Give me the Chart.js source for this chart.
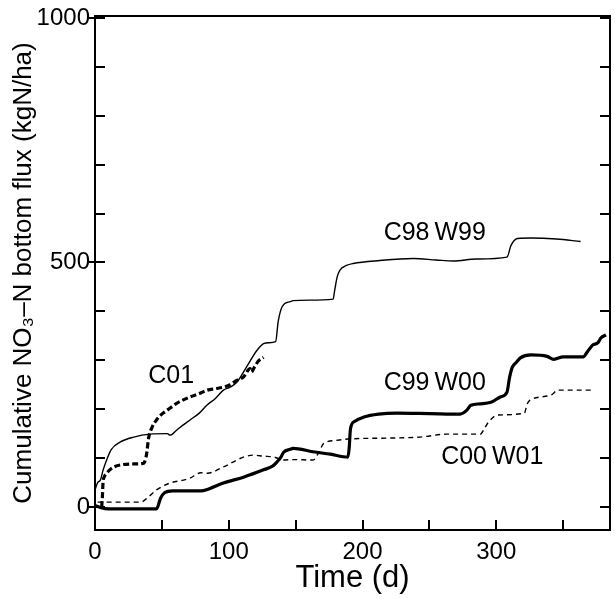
<!DOCTYPE html>
<html><head><meta charset="utf-8">
<script src="https://cdn.jsdelivr.net/npm/chart.js@4.4.0/dist/chart.umd.min.js"></script>
<style>html,body{margin:0;padding:0;background:#fff}</style>
</head><body>
<canvas id="c" width="615" height="599"></canvas>
<script>
// ---- data (time in days, cumulative NO3-N bottom flux in kgN/ha) ----
const c98w99Days = [0,2,4,6,9,12,19,29,41,54,56,61,66,71,78,84,90,96,101,106,113,121,126,130,135,137,140,146,148,160,178,179,181,183,188,193,213,238,255,268,285,308,311,316,326,345,363];
const c98w99Flux = [35,50,55,75,98,117,133,143,149,150,147,157,168,178,192,209,222,239,245,255,285,320,334,336,338,380,410,420,422,423,425,440,470,484,494,498,504,508,505,503,507,511,535,549,550,548,543];

const c01Days = [5,5.5,6,7,9,11,15,19,28,36,38,39,40,42.5,46,50,54,58,61,66,71,78,84,90,96,101,106,111,116,117,119,122,126];
const c01Flux = [0,20,50,62,70,76,83,86,88,89,100,117,140,162,178,190,198,206,212,219,225,232,239,242,245,250,259,266,283,276,285,298,306];

const c99w00Days = [0,3,10,46,49,52,58,79,85,96,111,126,133,136,139,141,146,148,163,176,189,190,191,194,201,212,226,250,273,278,281,288,296,303,308,310,312,315,318,326,338,343,350,365,368,372,376,378,382];
const c99w00Flux = [3,0,-4,-4,18,29,33,33,37,49,61,76,84,92,102,112,118,120,113,108,102,120,160,175,184,190,192,191,190,198,208,211,214,225,235,266,286,296,305,311,308,302,307,307,317,331,336,345,352];

const c00w01Days = [2,10,34,41,46,56,66,71,79,84,96,111,118,126,134,141,148,163,167,171,180,189,220,243,263,288,291,294,301,321,323,325,341,346,372];
const c00w01Flux = [10,10,10,23,35,49,55,59,70,69,82,102,106,104,102,96,97,96,110,130,136,139,141,143,149,149,160,173,188,192,210,218,229,239,239];

const xTickLabels = [0,100,200,300];
const yTickLabels = [0,500,1000];
const xMinorTicks = [0,50,100,150,200,250,300,350];
const yMinorTicks = [0,100,200,300,400,500,600,700,800,900,1000];

const seriesNames = ['C98\u2009W99','C01','C99\u2009W00','C00\u2009W01'];

const pts = (d, v) => d.map((x, i) => ({x: x, y: v[i]}));

// label anchors (data units) for the in-plot series names
const labelAnchors = [
  {text: seriesNames[0], x: 254, y: 560},
  {text: seriesNames[1], x: 57, y: 268},
  {text: seriesNames[2], x: 254, y: 254},
  {text: seriesNames[3], x: 297, y: 102}
];

const FONT = '"Liberation Sans", Arial, Helvetica, sans-serif';

const framePlugin = {
  id: 'frame',
  afterDatasetsDraw(chart) {
    const ctx = chart.ctx;
    const a = chart.chartArea;
    const xs = chart.scales.x, ys = chart.scales.y;
    ctx.save();
    ctx.strokeStyle = '#000';
    ctx.lineWidth = 2;
    ctx.lineCap = 'butt';
    ctx.beginPath();
    ctx.rect(a.left, a.top, a.right - a.left, a.bottom - a.top);
    ctx.stroke();
    const L = 10;
    ctx.beginPath();
    xMinorTicks.forEach(v => {
      const px = Math.round(xs.getPixelForValue(v));
      ctx.moveTo(px, a.bottom); ctx.lineTo(px, a.bottom - L);
    });
    yMinorTicks.forEach(v => {
      const py = Math.round(ys.getPixelForValue(v));
      ctx.moveTo(a.left, py); ctx.lineTo(a.left + L, py);
      ctx.moveTo(a.right, py); ctx.lineTo(a.right - L, py);
    });
    yTickLabels.forEach(v => {
      const py = Math.round(ys.getPixelForValue(v));
      ctx.moveTo(a.left, py); ctx.lineTo(a.left - 6, py);
    });
    ctx.stroke();
    // series names
    ctx.fillStyle = '#000';
    ctx.font = '25px ' + FONT;
    ctx.textAlign = 'center';
    ctx.textBaseline = 'middle';
    labelAnchors.forEach(l => {
      ctx.fillText(l.text, xs.getPixelForValue(l.x), ys.getPixelForValue(l.y));
    });
    ctx.restore();
  }
};

new Chart(document.getElementById('c'), {
  type: 'line',
  data: {
    datasets: [
      {label: seriesNames[0], data: pts(c98w99Days, c98w99Flux), borderColor: '#000', borderWidth: 1.4, pointRadius: 0, cubicInterpolationMode: 'monotone', fill: false},
      {label: seriesNames[1], data: pts(c01Days, c01Flux), borderColor: '#000', borderWidth: 3.2, borderDash: [6, 3], pointRadius: 0, cubicInterpolationMode: 'monotone', fill: false},
      {label: seriesNames[2], data: pts(c99w00Days, c99w00Flux), borderColor: '#000', borderWidth: 3.2, pointRadius: 0, cubicInterpolationMode: 'monotone', fill: false},
      {label: seriesNames[3], data: pts(c00w01Days, c00w01Flux), borderColor: '#000', borderWidth: 1.4, borderDash: [5, 4], pointRadius: 0, cubicInterpolationMode: 'monotone', fill: false}
    ]
  },
  options: {
    responsive: false,
    animation: false,
    devicePixelRatio: 1,
    layout: {padding: {top: 16, right: 5, left: 0, bottom: 0}},
    plugins: {legend: {display: false}, tooltip: {enabled: false}},
    scales: {
      x: {
        type: 'linear', min: 0, max: 385,
        grid: {display: false, drawTicks: false},
        border: {display: false},
        afterBuildTicks: s => { s.ticks = xTickLabels.map(v => ({value: v})); },
        afterFit: s => { s.height = 69; s.paddingLeft = 0; s.paddingRight = 0; },
        ticks: {autoSkip: false, maxRotation: 0, color: '#000', padding: 8, font: {family: FONT, size: 24}, callback: v => String(v)},
        title: {display: true, text: 'Time (d)', color: '#000', font: {family: FONT, size: 31}, padding: {top: 0, bottom: 2}}
      },
      y: {
        type: 'linear', min: -47, max: 1004,
        grid: {display: false, drawTicks: false},
        border: {display: false},
        afterBuildTicks: s => { s.ticks = yTickLabels.map(v => ({value: v})); },
        afterFit: s => { s.width = 95; s.paddingTop = 0; s.paddingBottom = 0; },
        ticks: {autoSkip: false, color: '#000', padding: 5, font: {family: FONT, size: 24}, callback: v => String(v)},
        title: {display: true, text: 'Cumulative NO\u2083\u2013N bottom flux (kgN/ha)', color: '#000', font: {family: FONT, size: 26}, padding: {top: 8, bottom: 0}}
      }
    }
  },
  plugins: [framePlugin]
});
</script>
</body></html>
